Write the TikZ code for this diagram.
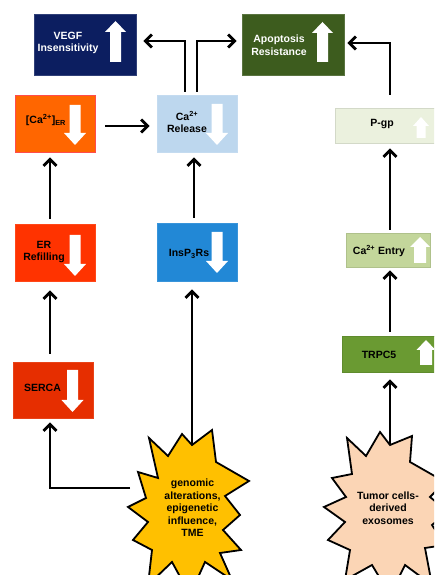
\documentclass[tikz,border=0pt]{standalone}
\usepackage{fontspec}
\setmainfont{Liberation Sans}
\usetikzlibrary{arrows}
\usetikzlibrary{arrows.meta}

\definecolor{vegfblue}{RGB}{12,30,96}
\definecolor{apopgreen}{RGB}{61,92,30}
\definecolor{caorange}{RGB}{255,102,0}
\definecolor{relblue}{RGB}{189,215,238}
\definecolor{pgpgreen}{RGB}{235,241,222}
\definecolor{refred}{RGB}{255,51,0}
\definecolor{insblue}{RGB}{34,136,214}
\definecolor{entgreen}{RGB}{195,214,155}
\definecolor{trpgreen}{RGB}{106,154,50}
\definecolor{sercared}{RGB}{230,46,0}
\definecolor{staryellow}{RGB}{255,192,0}
\definecolor{starpeach}{RGB}{251,213,181}

% white block arrow: x, base y, tip y, half shaft, half head, head length (signed)
\newcommand{\blockarr}[6]{\fill[white] ({#1-#4},#2) -- ({#1-#4},{#3-(#6)}) -- ({#1-#5},{#3-(#6)}) -- (#1,#3) -- ({#1+#5},{#3-(#6)}) -- ({#1+#4},{#3-(#6)}) -- ({#1+#4},#2) -- cycle;}

\tikzset{
  box/.style={line width=.8pt, minimum width=80, minimum height=57, inner sep=0},
  txt/.style={font=\bfseries\fontsize{10.5}{12.5}\selectfont, align=center, inner sep=0},
  conn/.style={->, >={Straight Barb[length=6.5pt,width=13pt]}, line width=2.8pt, black, shorten <=5pt, shorten >=5pt},
  burst/.style={draw=black, line width=1.8pt, line join=miter}
}

\begin{document}
\begin{tikzpicture}[x=1pt,y=1pt]
\useasboundingbox (0,0) rectangle (434,575);
\clip (0,0) rectangle (434,575);

% top row
\node[box, fill=vegfblue, draw=vegfblue!85!white, minimum width=102, minimum height=61] (vegf) at (85,530.5) {};
\blockarr{115.5}{513}{554}{5.5}{10.5}{11}
\node[txt, white] (vegftxt) at (68,532) {VEGF\\Insensitivity};

\node[box, fill=apopgreen, draw=apopgreen!85!white, minimum width=102, minimum height=61] (apop) at (293,530.5) {};
\blockarr{322.5}{513}{553}{5.5}{10.5}{11}
\node[txt, white] (apoptxt) at (279,529.5) {Apoptosis\\Resistance};

% second row
\node[box, fill=caorange, draw=red!70!white] (caer) at (55,451.5) {};
\blockarr{75}{470}{430}{5.5}{11}{-12}
\node[txt] (caertxt) at (46,455) {[Ca\textsuperscript{2+}]\textsubscript{ER}};

\node[box, fill=relblue, draw=relblue!90!white] (rel) at (197,451.5) {};
\blockarr{217}{471}{430}{5.5}{11}{-12}
\node[txt] (reltxt) at (187,453) {Ca\textsuperscript{2+}\\Release};

\node[box, fill=pgpgreen, draw=pgpgreen!90!black, minimum width=100, minimum height=35] (pgp) at (385,449.5) {};
\blockarr{421}{437}{458}{4.5}{8}{9}
\node[txt] (pgptxt) at (382,451) {P-gp};

% third row
\node[box, fill=refred, draw=refred!90!white] (erref) at (55,322.5) {};
\blockarr{75}{340}{299}{5.5}{11}{-12}
\node[txt] (erreftxt) at (44,323) {ER\\Refilling};

\node[box, fill=insblue, draw=insblue!90!white, minimum height=58] (insp) at (197,323) {};
\blockarr{217}{343}{302}{5.5}{11}{-12}
\node[txt] (insptxt) at (189,321) {InsP\textsubscript{3}Rs};

\node[box, fill=entgreen, draw=entgreen!90!black, minimum width=84, minimum height=34] (entry) at (388.5,325) {};
\blockarr{420}{312}{338}{6}{10}{10}
\node[txt] (entrytxt) at (379,324) {Ca\textsuperscript{2+} Entry};

% fourth row
\node[box, fill=trpgreen, draw=trpgreen!90!black, minimum width=94, minimum height=36] (trpc) at (389,221) {};
\blockarr{426}{210}{235}{6}{9.5}{10}
\node[txt] (trpctxt) at (379,220) {TRPC5};

\node[box, fill=sercared, draw=sercared!90!white, minimum height=56] (serca) at (53,185) {};
\blockarr{72.5}{205}{163}{5.5}{11}{-12}
\node[txt] (sercatxt) at (42.5,187) {SERCA};

% bursts
\draw[burst, fill=staryellow] (128,68) -- (146,77) -- (138,103) -- (158,97) -- (149,137) -- (168,119) -- (182,141) -- (192,130) -- (212,145) -- (216,113) -- (249,94) -- (225,79) -- (240,60) -- (223,45) -- (241,25) -- (220,22) -- (232,-5) -- (205,13) -- (190,-20) -- (172,13) -- (148,-10) -- (152,25) -- (133,35) -- (148,53) -- cycle;
\node[txt] (gen) at (192.5,67) {genomic\\alterations,\\epigenetic\\influence,\\TME};
\coordinate (gentop) at (192,130);
\coordinate (genleft) at (130,87);

\draw[burst, fill=starpeach] (324,68) -- (346,78) -- (332,97) -- (352,101) -- (347,137) -- (366,119) -- (380,143) -- (390,130) -- (412,139) -- (410,113) -- (445,93) -- (430,78) -- (448,63) -- (432,50) -- (445,30) -- (425,27) -- (432,-10) -- (405,10) -- (390,-20) -- (372,10) -- (345,-5) -- (350,25) -- (328,35) -- (345,53) -- cycle;
\node[txt] (tum) at (388,67) {Tumor cells-\\derived\\exosomes};
\coordinate (tumtop) at (390,130);

% connectors
\draw[conn, shorten <=10pt, shorten >=7pt] (caer.east |- 0,449) -- (rel.west |- 0,449);
\draw[conn] ([xshift=-5]erref.north) -- ([xshift=-5]caer.south);
\draw[conn, shorten <=8pt, shorten >=9pt] ([xshift=-3]serca.north) -- ([xshift=-3]serca.north |- erref.south);
\draw[conn] ([xshift=-3]insp.north) -- ([xshift=-3]rel.north |- rel.south);
\draw[conn, shorten <=3pt, shorten >=7pt] ([xshift=-12]rel.north) |- (vegf.east |- 0,534);
\draw[conn, shorten <=3pt] (rel.north) |- (apop.west |- 0,534);
\draw[conn, shorten <=13pt, shorten >=3pt] ([xshift=5]pgp.north) |- (apop.east |- 0,532);
\draw[conn, shorten <=3pt] (entry.north -| 390,0) -- (pgp.south -| 390,0);
\draw[conn, shorten <=4pt, shorten >=3pt] (trpc.north -| 390,0) -- (entry.south -| 390,0);
\draw[conn, shorten <=0pt, shorten >=7pt] (tumtop) -- (tumtop |- trpc.south);
\draw[conn, shorten <=0pt, shorten >=8pt] (gentop) -- (gentop |- insp.south);
\draw[conn, shorten <=0pt, shorten >=4pt] (genleft) -| ([xshift=-3]serca.south);
\end{tikzpicture}
\end{document}
